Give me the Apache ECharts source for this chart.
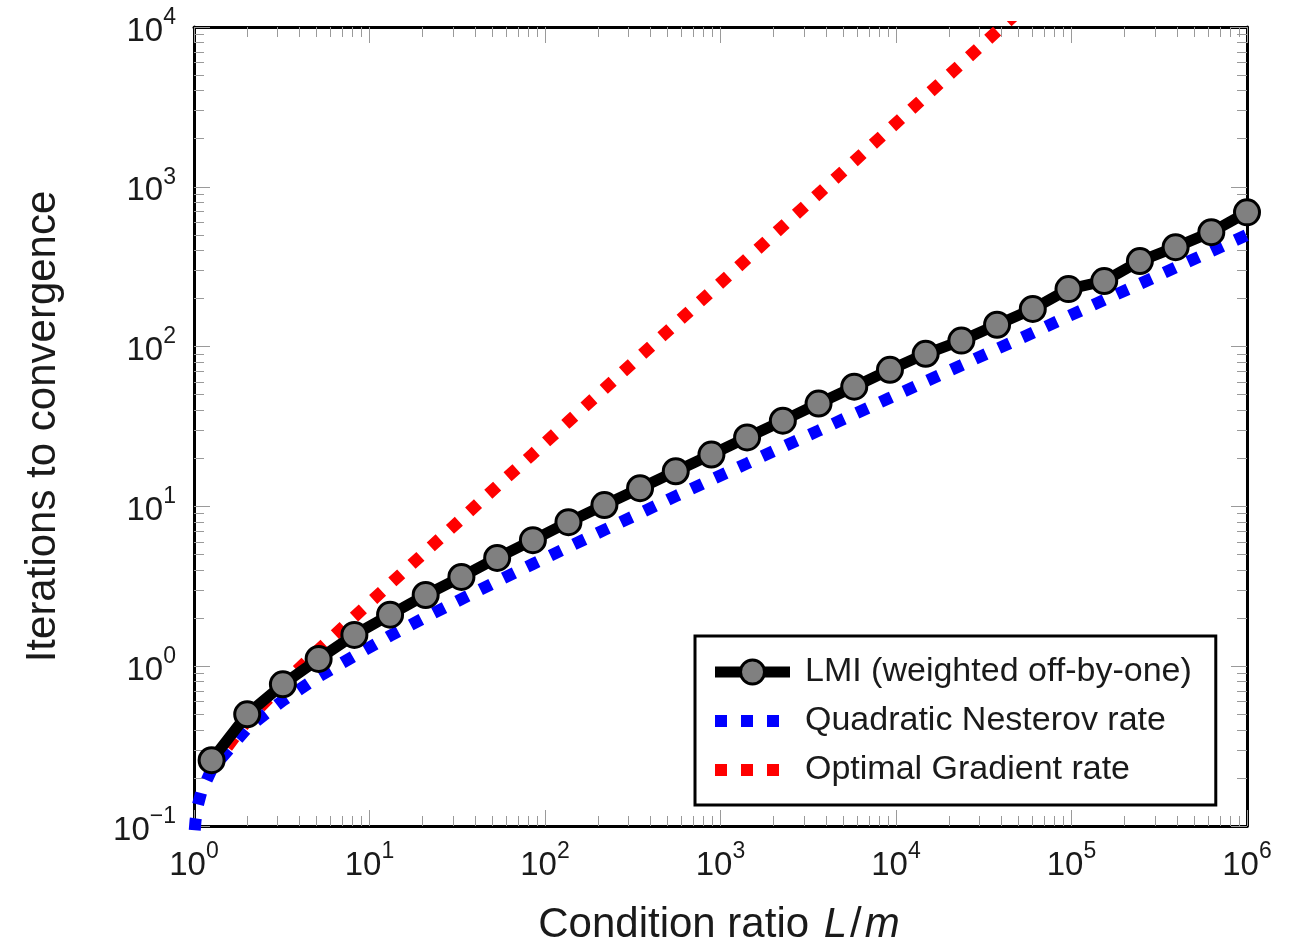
<!DOCTYPE html>
<html><head><meta charset="utf-8">
<script src="https://cdn.jsdelivr.net/npm/echarts@6/dist/echarts.min.js"></script>
<style>html,body{margin:0;padding:0;background:#fff}#c{width:1297px;height:951px}</style>
</head><body><div id="c"></div><script>
// ---- data ----
const X_MAJOR = [1, 10, 100, 1000, 10000, 100000, 1000000];
const Y_MAJOR = [0.1, 1, 10, 100, 1000, 10000];
const MINOR_MANTISSAS = [2, 3, 4, 5, 6, 7, 8, 9];

const lmiX = [1.26, 2.01, 3.21, 5.13, 8.2, 13.1, 20.9, 33.4, 53.4, 85.3, 136, 218, 348, 556, 888, 1418, 2266, 3620, 5782, 9237, 14760, 23580, 37660, 60170, 96120, 153600, 245300, 391900, 626100, 1000000];
const lmiY = [0.258, 0.50, 0.77, 1.11, 1.57, 2.10, 2.79, 3.62, 4.76, 6.15, 7.97, 10.2, 13.0, 16.6, 21.1, 27.0, 34.4, 44.0, 56.1, 71.6, 90.1, 109, 137, 172, 229, 257, 343, 419, 520, 692];

const nesterovX = [1.01, 1.02, 1.05, 1.1, 1.26, 2.01, 3.21, 5.13, 8.2, 13.1, 20.9, 33.4, 53.4, 85.3, 136, 218, 348, 556, 888, 1418, 2266, 3620, 5782, 9237, 14760, 23580, 37660, 60170, 96120, 153600, 245300, 391900, 626100, 1000000];
const nesterovY = [0.094, 0.108, 0.134, 0.163, 0.226, 0.41, 0.61, 0.86, 1.16, 1.55, 2.03, 2.63, 3.40, 4.36, 5.57, 7.13, 9.07, 11.6, 14.7, 18.6, 23.6, 29.8, 37.8, 47.8, 60.5, 76.5, 96.8, 122, 155, 196, 247, 313, 395, 500];

const gradientX = [1.26, 2.01, 3.21, 5.13, 8.2, 13.1, 20.9, 33.4, 53.4, 85.3, 136, 218, 348, 556, 888, 1418, 2266, 3620, 5782, 9237, 14760, 23580, 37660, 60170];
const gradientY = [0.231, 0.458, 0.776, 1.27, 2.04, 3.27, 5.22, 8.35, 13.4, 21.3, 34.0, 54.5, 87, 139, 222, 355, 567, 905, 1446, 2309, 3690, 5895, 9415, 15040];

const NAMES = ['LMI (weighted off-by-one)', 'Quadratic Nesterov rate', 'Optimal Gradient rate'];

// ---- helpers ----
const FONT = "'Liberation Sans', Helvetica, Arial, sans-serif";
const TXT = '#1a1a1a';
function zip(a, b) { return a.map((v, i) => [v, b[i]]); }
function minorTicks(majors) {
  const out = [];
  for (let i = 0; i < majors.length - 1; i++) MINOR_MANTISSAS.forEach(m => out.push(+(majors[i] * m).toPrecision(6)));
  return out;
}
function fmt(v) {
  const e = Math.round(Math.log10(v));
  return '{b|10}{s|' + (e < 0 ? '\u2212' + (-e) : e) + '}';
}
const labelRich = {
  b: { fontSize: 33, lineHeight: 42, verticalAlign: 'bottom', fontFamily: FONT, color: TXT },
  s: { fontSize: 23, lineHeight: 23, verticalAlign: 'top', fontFamily: FONT, color: TXT }
};
const TICK_COLOR = '#9a9a9a';
const LINE = { show: true, onZero: false, lineStyle: { color: '#000', width: 3 } };

function xAx(pos, major, showLine, showLabel) {
  return {
    type: 'log', logBase: 10, min: 1, max: 1000000, position: pos, gridIndex: 0,
    axisLine: showLine ? LINE : { show: false },
    axisTick: { show: true, inside: true, length: major ? 16 : 10, customValues: major ? X_MAJOR : minorTicks(X_MAJOR), lineStyle: { color: TICK_COLOR, width: 1 } },
    axisLabel: showLabel ? { show: true, customValues: X_MAJOR, formatter: fmt, rich: labelRich, margin: 14 } : { show: false },
    splitLine: { show: false }, minorTick: { show: false }, minorSplitLine: { show: false }
  };
}
function yAx(pos, major, showLine, showLabel) {
  return {
    type: 'log', logBase: 10, min: 0.1, max: 10000, position: pos, gridIndex: 0,
    axisLine: showLine ? LINE : { show: false },
    axisTick: { show: true, inside: true, length: major ? 16 : 10, customValues: major ? Y_MAJOR : minorTicks(Y_MAJOR), lineStyle: { color: TICK_COLOR, width: 1 } },
    axisLabel: showLabel ? { show: true, customValues: Y_MAJOR, formatter: fmt, rich: labelRich, margin: 18 } : { show: false },
    splitLine: { show: false }, minorTick: { show: false }, minorSplitLine: { show: false }
  };
}

const xAxes = [xAx('bottom', true, true, true), xAx('bottom', false, false, false), xAx('top', true, true, false), xAx('top', false, false, false)];
xAxes[0].name = '{n|Condition ratio }{i|L}{n|/}{i|m}';
xAxes[0].nameLocation = 'middle';
xAxes[0].nameGap = 78;
xAxes[0].nameTextStyle = { rich: {
  n: { fontSize: 42, fontFamily: FONT, color: TXT },
  i: { fontSize: 42, fontFamily: FONT, fontStyle: 'italic', color: TXT, padding: [0, 3, 0, 3] }
} };
const yAxes = [yAx('left', true, true, true), yAx('left', false, false, false), yAx('right', true, true, false), yAx('right', false, false, false)];
yAxes[0].name = 'Iterations to convergence';
yAxes[0].nameLocation = 'middle';
yAxes[0].nameGap = 130;
yAxes[0].nameTextStyle = { fontSize: 42, fontFamily: FONT, color: TXT };

const clearSymbol = { color: 'rgba(0,0,0,0)', borderWidth: 0, borderColor: 'rgba(0,0,0,0)' };

const chart = echarts.init(document.getElementById('c'), null, { renderer: 'canvas' });
chart.setOption({
  animation: false,
  backgroundColor: '#fff',
  grid: { left: 194, right: 50, top: 27, bottom: 122, containLabel: false },
  xAxis: xAxes,
  yAxis: yAxes,
  legend: {
    left: 695, top: 636, orient: 'vertical',
    data: [
      { name: NAMES[0] },
      { name: NAMES[1], itemStyle: clearSymbol },
      { name: NAMES[2], itemStyle: clearSymbol }
    ],
    itemWidth: 75, itemHeight: 30, itemGap: 15,
    padding: [19, 24, 18, 14],
    borderColor: '#000', borderWidth: 3, borderRadius: 0, backgroundColor: '#fff',
    textStyle: { fontSize: 34, fontFamily: FONT, color: TXT, padding: [0, 0, 0, 10], lineHeight: 32 },
    lineStyle: { width: 'inherit', type: 'inherit' },
    itemStyle: { borderWidth: 'inherit' },
    selectedMode: false
  },
  series: [
    { name: NAMES[1], type: 'line', data: zip(nesterovX, nesterovY), symbol: 'none', color: '#0000ff',
      lineStyle: { color: '#0000ff', width: 12, type: [12, 14], cap: 'butt' }, z: 2, silent: true },
    { name: NAMES[2], type: 'line', data: zip(gradientX, gradientY), symbol: 'none', color: '#ff0000',
      lineStyle: { color: '#ff0000', width: 12, type: [12, 14], cap: 'butt' }, z: 3, silent: true },
    { name: NAMES[0], type: 'line', data: zip(lmiX, lmiY), symbol: 'circle', symbolSize: 25, color: '#808080',
      itemStyle: { color: '#808080', borderColor: '#000', borderWidth: 3 },
      lineStyle: { color: '#000', width: 11 }, z: 4, silent: true }
  ]
});
</script></body></html>
